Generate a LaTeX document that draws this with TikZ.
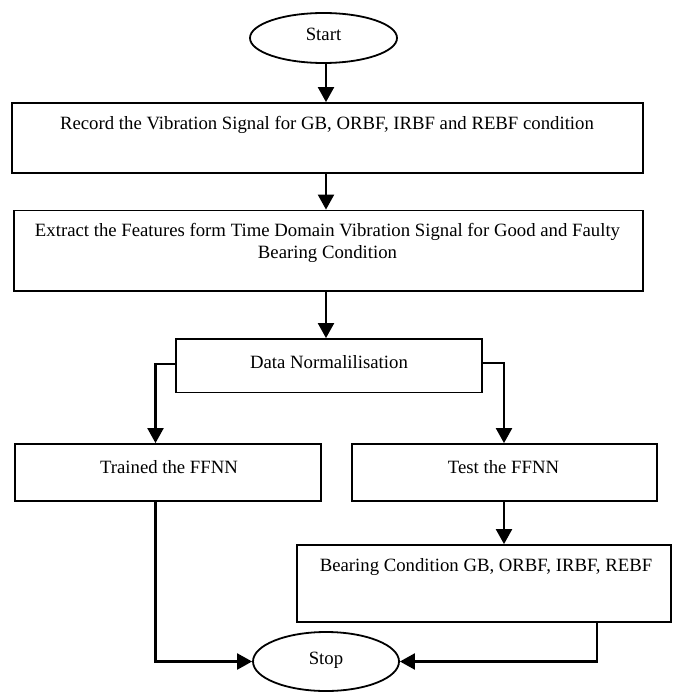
\documentclass[tikz,border=0pt]{standalone}
\usepackage{fontspec}
\setmainfont{Liberation Serif}
\usetikzlibrary{shapes.geometric,arrows.meta}
\begin{document}
\begin{tikzpicture}[x=1pt,y=-1pt,
  box/.style={draw,line width=1.8pt,inner sep=0pt},
  oval/.style={draw,ellipse,line width=1.8pt,inner sep=0pt},
  txt/.style={font=\fontsize{18.75}{22}\selectfont,align=center,inner sep=0pt},
  arr/.style={line width=2.2pt,-{Triangle[length=15pt,width=16pt]}}]
\useasboundingbox (0,0) rectangle (678,695);
% shapes
\node[oval,minimum width=147pt,minimum height=50pt] (start) at (323.5,38) {};
\node[txt] (tstart) at (323.5,34) {Start};
\node[box,minimum width=631pt,minimum height=70pt] (b1) at (327.5,138) {};
\node[txt] (t1) at (327,125) {Record the Vibration Signal for GB, ORBF, IRBF and REBF condition};
\node[box,minimum width=629pt,minimum height=80.5pt] (b2) at (328.5,250.75) {};
\node[txt] (t2) at (327.5,243) {Extract the Features form Time Domain Vibration Signal for Good and Faulty\\Bearing Condition};
\node[box,minimum width=306pt,minimum height=53.5pt] (b3) at (329,365.75) {};
\node[txt] (t3) at (329,362) {Data Normalilisation};
\node[box,minimum width=306pt,minimum height=57pt] (b4) at (168,472.5) {};
\node[txt] (t4) at (169,467) {Trained the FFNN};
\node[box,minimum width=305pt,minimum height=57pt] (b5) at (504.5,472.5) {};
\node[txt] (t5) at (503.5,467) {Test the FFNN};
\node[box,minimum width=374pt,minimum height=77pt] (b6) at (484,583.5) {};
\node[txt] (t6) at (486,567) {Bearing Condition GB, ORBF, IRBF, REBF};
\node[oval,minimum width=146pt,minimum height=59pt] (stop) at (326,661.5) {};
\node[txt] (tstop) at (326,660) {Stop};
% connector anchor points
\coordinate (s1) at (326,63);
\coordinate (c3l) at (176,364);
\coordinate (c3r) at (482,363);
\coordinate (c4b) at (155.5,501);
\coordinate (c5b) at (504,501);
\coordinate (c6b) at (597,622);
% connectors
\draw[arr] (s1) -- (s1 |- b1.north);
\draw[arr] (s1 |- b1.south) -- (s1 |- b2.north);
\draw[arr] (s1 |- b2.south) -- (s1 |- b3.north);
\draw[arr] (c3l) -| (c4b |- b4.north);
\draw[arr] (c3r) -| (c5b |- b5.north);
\draw[arr] (c5b) -- (c5b |- b6.north);
\draw[arr] (c4b) |- (stop.west);
\draw[arr] (c6b) |- (stop.east);
\end{tikzpicture}
\end{document}
